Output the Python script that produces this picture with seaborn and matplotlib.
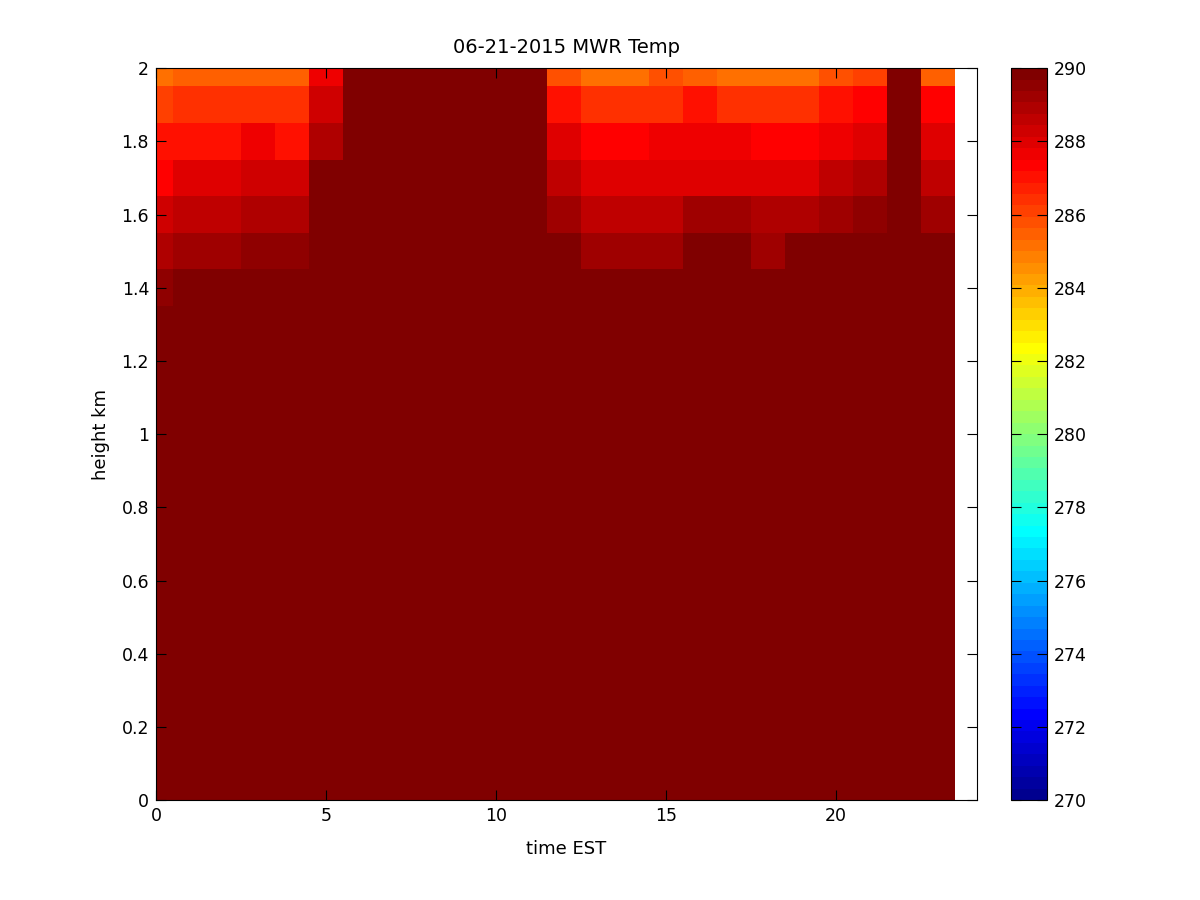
import numpy as np
import pandas as pd
import matplotlib.pyplot as plt
from matplotlib.colors import ListedColormap
import seaborn as sns

# time (EST hours) and height (km) grid of the radiometer profile
times = list(range(24))
heights = [round(0.1 * k, 1) for k in range(21)]

# cells above the colour limit (show as the darkest red)
D = 291.0

# temperature (K) per hour, upper rows
t_2_0 = [285.2, 285.5, 285.5, 285.5, 285.5, 287.6, D, D, D, D, D, D,
         285.9, 285.3, 285.3, 285.7, 285.6, 285.3, 285.3, 285.3, 285.7, 286.2, D, 285.6]
t_1_9 = [286.0, 286.5, 286.5, 286.5, 286.5, 288.2, D, D, D, D, D, D,
         287.1, 286.3, 286.3, 286.4, 286.9, 286.4, 286.4, 286.4, 286.9, 287.2, D, 287.2]
t_1_8 = [286.9, 287.1, 287.1, 287.5, 287.1, 288.75, D, D, D, D, D, D,
         288.0, 287.3, 287.3, 287.5, 287.5, 287.5, 287.3, 287.3, 287.6, 288.1, D, 287.9]
t_1_7 = [287.3, 288.0, 288.0, 288.2, 288.2, 289.7, D, D, D, D, D, D,
         288.6, 287.9, 287.9, 287.9, 288.1, 288.1, 288.1, 288.1, 288.6, 288.8, D, 288.6]
t_1_6 = [288.4, 288.6, 288.6, 288.75, 288.75, D, D, D, D, D, D, D,
         289.3, 288.6, 288.6, 288.6, 289.2, 289.2, 288.8, 288.8, 289.1, 289.4, D, 289.2]
t_1_5 = [288.8, 289.2, 289.2, 289.4, 289.4, D, D, D, D, D, D, D,
         289.7, 289.1, 289.1, 289.1, 289.8, 289.8, 289.3, 289.7, 289.7, D, D, D]
t_1_4 = [289.6, D, D, D, D, D, D, D, D, D, D, D,
         D, 289.7, 289.7, 289.7, D, D, D, D, D, D, D, D]

upper = {2.0: t_2_0, 1.9: t_1_9, 1.8: t_1_8, 1.7: t_1_7,
         1.6: t_1_6, 1.5: t_1_5, 1.4: t_1_4}
rows = [upper.get(h, [D] * len(times)) for h in heights]
df = pd.DataFrame(rows, index=heights, columns=times)

# MATLAB-style jet(64)
i = np.arange(1, 65)
r = np.clip(np.minimum((i - 24) / 16, (72 - i) / 16), 0, 1)
g = np.clip(np.minimum((i - 8) / 16, (56 - i) / 16), 0, 1)
b = np.clip(np.minimum((i + 8) / 16, (40 - i) / 16), 0, 1)
jet64 = ListedColormap(np.column_stack([r, g, b]))

plt.rcParams['font.family'] = ['DejaVu Sans']

fig = plt.figure(figsize=(12, 9), dpi=100)
ax = fig.add_axes([0.13, 0.111, 0.684, 0.8133])
cax = fig.add_axes([0.8425, 0.111, 0.03, 0.8133])

sns.heatmap(df, ax=ax, cbar_ax=cax, cmap=jet64,
            vmin=270, vmax=290, xticklabels=False, yticklabels=False)

# heatmap cells sit at index+0.5, so shift the ranges onto time / height
ax.set_xlim(0.5, 24.65)
ax.set_ylim(0.5, 20.5)
xt = [0, 5, 10, 15, 20]
ax.set_xticks([t + 0.5 for t in xt])
ax.set_xticklabels([str(t) for t in xt])
yt = [0, 0.2, 0.4, 0.6, 0.8, 1, 1.2, 1.4, 1.6, 1.8, 2]
ax.set_yticks([10 * h + 0.5 for h in yt])
ax.set_yticklabels([f"{h:g}" for h in yt], rotation=0)
ax.tick_params(direction='in', top=True, right=True, length=7,
               width=0.8, labelsize=12.5, pad=5)
for s in ax.spines.values():
    s.set_visible(True)
    s.set_color('black')
    s.set_linewidth(0.8)

ax.set_title("06-21-2015 MWR Temp", fontsize=14, pad=11)
ax.set_xlabel("time EST", fontsize=13, labelpad=11)
ax.set_ylabel("height km", fontsize=13, labelpad=8)

cb = ax.collections[0].colorbar
cb.set_ticks(list(range(270, 291, 2)))
cb.outline.set_linewidth(0.8)
cb.outline.set_edgecolor('black')
cax.tick_params(direction='in', left=True, right=True, length=7,
                width=0.8, labelsize=12.5, pad=5)

fig.savefig("out.png", dpi=100)
